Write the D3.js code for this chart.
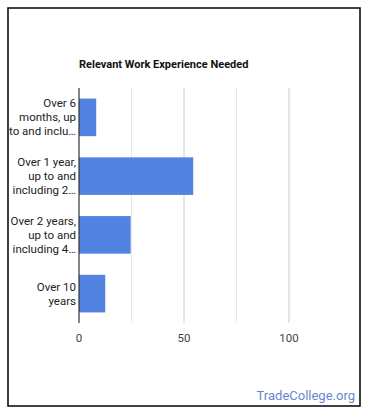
<!DOCTYPE html>
<html lang="en">
<head>
<meta charset="UTF-8">
<title>Relevant Work Experience Needed</title>
<script src="https://d3js.org/d3.v7.min.js"></script>
<style>
  body { margin: 0; background: #fff; }
  svg { display: block; font-family: Roboto, "Noto Sans", sans-serif; }
</style>
</head>
<body>
<svg id="chart" width="370" height="417"></svg>
<script>
// data
const categories = [
  ["Over 6", "months, up", "to and inclu…"],
  ["Over 1 year,", "up to and", "including 2…"],
  ["Over 2 years,", "up to and", "including 4…"],
  ["Over 10", "years"]
];
const values = [8.2, 54.4, 24.6, 12.5];
const tickValues = [0, 50, 100];
const gridValues = [0, 25, 50, 75, 100];

const svg = d3.select("#chart");

// outer frame
svg.append("rect")
  .attr("x", 8).attr("y", 8)
  .attr("width", 352).attr("height", 398)
  .attr("fill", "#fff")
  .attr("stroke", "#111")
  .attr("stroke-width", 1.6);

const margin = { left: 79, top: 88, right: 28, bottom: 94 };
const width = 370 - margin.left - margin.right;
const height = 417 - margin.top - margin.bottom;
const g = svg.append("g").attr("transform", `translate(${margin.left},${margin.top})`);

const x = d3.scaleLinear().domain([0, 125]).range([0, 262.5]);
const y = d3.scaleBand()
  .domain(d3.range(values.length))
  .range([0, height])
  .paddingInner(0.36)
  .paddingOuter(0.18);

// title
svg.append("text")
  .attr("x", margin.left)
  .attr("y", 64)
  .attr("dy", "0.35em")
  .attr("font-size", 11)
  .attr("font-weight", "bold")
  .attr("fill", "#111")
  .text("Relevant Work Experience Needed");

// gridlines
g.selectAll(".grid")
  .data(gridValues.slice(1))
  .enter().append("line")
  .attr("x1", d => x(d)).attr("x2", d => x(d))
  .attr("y1", 0).attr("y2", height)
  .attr("stroke", d => d % 50 === 0 ? "#ccc" : "#e6e6e6")
  .attr("stroke-width", 1);

// bars
g.selectAll(".bar")
  .data(values)
  .enter().append("rect")
  .attr("x", 0)
  .attr("y", (d, i) => y(i))
  .attr("width", d => x(d))
  .attr("height", y.bandwidth())
  .attr("fill", "#5283e0");

// baseline
g.append("line")
  .attr("x1", 0).attr("x2", 0)
  .attr("y1", 0).attr("y2", height)
  .attr("stroke", "#333")
  .attr("stroke-width", 1.2);

// x tick labels
g.selectAll(".tick")
  .data(tickValues)
  .enter().append("text")
  .attr("x", d => x(d))
  .attr("y", height + 15)
  .attr("dy", "0.35em")
  .attr("text-anchor", "middle")
  .attr("font-size", 11.5)
  .attr("fill", "#444")
  .text(d => d);

// category labels
categories.forEach((lines, i) => {
  const cy = y(i) + y.bandwidth() / 2;
  const lh = 14;
  const t = g.append("text")
    .attr("text-anchor", "end")
    .attr("font-size", 11.5)
    .attr("fill", "#222");
  lines.forEach((line, j) => {
    t.append("tspan")
      .attr("x", -3)
      .attr("y", cy + (j - (lines.length - 1) / 2) * lh)
      .attr("dy", "0.35em")
      .text(line);
  });
});

// watermark
svg.append("text")
  .attr("x", 355)
  .attr("y", 395)
  .attr("dy", "0.35em")
  .attr("text-anchor", "end")
  .attr("font-size", 13)
  .attr("fill", "#6688d0")
  .text("TradeCollege.org");
</script>
</body>
</html>
